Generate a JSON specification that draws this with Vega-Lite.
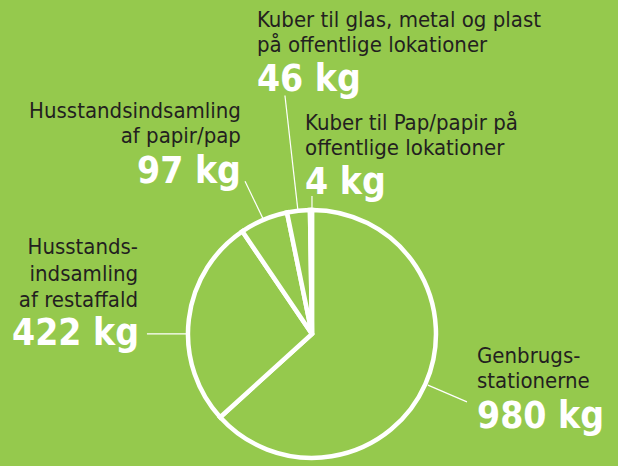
{
  "$schema": "https://vega.github.io/schema/vega-lite/v6.json",
  "width": 618,
  "height": 466,
  "autosize": {"type": "fit", "contains": "padding"},
  "padding": 0,
  "background": "#95c94d",
  "config": {"view": {"stroke": null}},
  "datasets": {
    "slices": [
      {"name": "Genbrugsstationerne", "kg": 980, "order": 1},
      {"name": "Husstandsindsamling af restaffald", "kg": 422, "order": 2},
      {"name": "Husstandsindsamling af papir/pap", "kg": 97, "order": 3},
      {"name": "Kuber til glas, metal og plast på offentlige lokationer", "kg": 46, "order": 4},
      {"name": "Kuber til Pap/papir på offentlige lokationer", "kg": 4, "order": 5}
    ],
    "names": [
      {"text": "Kuber til glas, metal og plast", "u": -44.4, "v": 251.6, "side": "left"},
      {"text": "på offentlige lokationer", "u": -44.4, "v": 230.6, "side": "left"},
      {"text": "Husstandsindsamling", "u": -57.3, "v": 176.6, "side": "right"},
      {"text": "af papir/pap", "u": -57.3, "v": 156.5, "side": "right"},
      {"text": "Kuber til Pap/papir på", "u": -5.6, "v": 166.9, "side": "left"},
      {"text": "offentlige lokationer", "u": -5.6, "v": 146.8, "side": "left"},
      {"text": "Husstands-", "u": -140.3, "v": 65.3, "side": "right"},
      {"text": "indsamling", "u": -140.3, "v": 43.5, "side": "right"},
      {"text": "af restaffald", "u": -140.3, "v": 21.8, "side": "right"},
      {"text": "Genbrugs-", "u": 133.1, "v": -23.4, "side": "left"},
      {"text": "stationerne", "u": 133.1, "v": -44.4, "side": "left"}
    ],
    "values": [
      {"text": "46 kg", "u": -44.4, "v": 199.2, "side": "left"},
      {"text": "97 kg", "u": -57.3, "v": 123.4, "side": "right"},
      {"text": "4 kg", "u": -5.6, "v": 114.5, "side": "left"},
      {"text": "422 kg", "u": -139.5, "v": -8.9, "side": "right"},
      {"text": "980 kg", "u": 133.1, "v": -77.4, "side": "left"}
    ],
    "leaders": [
      {"u": -21.8, "v": 195.2, "u2": -11.3, "v2": 100.8},
      {"u": -54.0, "v": 125.0, "u2": -39.5, "v2": 94.4},
      {"u": 0, "v": 112.9, "u2": 0, "v2": 100.8},
      {"u": -133.1, "v": 0, "u2": -100, "v2": 0},
      {"u": 93.5, "v": -41.9, "u2": 125, "v2": -55.6}
    ]
  },
  "layer": [
    {
      "data": {"name": "leaders"},
      "mark": {"type": "rule", "color": "white", "strokeWidth": 1.2},
      "encoding": {
        "x": {"field": "u", "type": "quantitative", "scale": {"domain": [-251.6, 246.8], "nice": false, "zero": false}, "axis": null},
        "y": {"field": "v", "type": "quantitative", "scale": {"domain": [-102.4, 273.4], "nice": false, "zero": false}, "axis": null},
        "x2": {"field": "u2"},
        "y2": {"field": "v2"}
      }
    },
    {
      "data": {"name": "slices"},
      "mark": {"type": "arc", "radius": 124, "fill": "#95c94d", "stroke": "white", "strokeWidth": 4.5},
      "encoding": {
        "theta": {"field": "kg", "type": "quantitative"},
        "order": {"field": "order", "type": "quantitative"},
        "x": {"datum": 0, "type": "quantitative", "scale": {"domain": [-251.6, 246.8], "nice": false, "zero": false}, "axis": null},
        "y": {"datum": 0, "type": "quantitative", "scale": {"domain": [-102.4, 273.4], "nice": false, "zero": false}, "axis": null}
      }
    },
    {
      "data": {"name": "names"},
      "transform": [{"filter": "datum.side === 'left'"}],
      "mark": {"type": "text", "align": "left", "baseline": "alphabetic", "font": "DejaVu Sans Condensed", "fontSize": 22, "color": "#231f20"},
      "encoding": {
        "x": {"field": "u", "type": "quantitative", "scale": {"domain": [-251.6, 246.8], "nice": false, "zero": false}, "axis": null},
        "y": {"field": "v", "type": "quantitative", "scale": {"domain": [-102.4, 273.4], "nice": false, "zero": false}, "axis": null},
        "text": {"field": "text"}
      }
    },
    {
      "data": {"name": "names"},
      "transform": [{"filter": "datum.side === 'right'"}],
      "mark": {"type": "text", "align": "right", "baseline": "alphabetic", "font": "DejaVu Sans Condensed", "fontSize": 22, "color": "#231f20"},
      "encoding": {
        "x": {"field": "u", "type": "quantitative", "scale": {"domain": [-251.6, 246.8], "nice": false, "zero": false}, "axis": null},
        "y": {"field": "v", "type": "quantitative", "scale": {"domain": [-102.4, 273.4], "nice": false, "zero": false}, "axis": null},
        "text": {"field": "text"}
      }
    },
    {
      "data": {"name": "values"},
      "transform": [{"filter": "datum.side === 'left'"}],
      "mark": {"type": "text", "align": "left", "baseline": "alphabetic", "font": "DejaVu Sans Condensed", "fontWeight": "bold", "fontSize": 37, "color": "white"},
      "encoding": {
        "x": {"field": "u", "type": "quantitative", "scale": {"domain": [-251.6, 246.8], "nice": false, "zero": false}, "axis": null},
        "y": {"field": "v", "type": "quantitative", "scale": {"domain": [-102.4, 273.4], "nice": false, "zero": false}, "axis": null},
        "text": {"field": "text"}
      }
    },
    {
      "data": {"name": "values"},
      "transform": [{"filter": "datum.side === 'right'"}],
      "mark": {"type": "text", "align": "right", "baseline": "alphabetic", "font": "DejaVu Sans Condensed", "fontWeight": "bold", "fontSize": 37, "color": "white"},
      "encoding": {
        "x": {"field": "u", "type": "quantitative", "scale": {"domain": [-251.6, 246.8], "nice": false, "zero": false}, "axis": null},
        "y": {"field": "v", "type": "quantitative", "scale": {"domain": [-102.4, 273.4], "nice": false, "zero": false}, "axis": null},
        "text": {"field": "text"}
      }
    }
  ]
}
